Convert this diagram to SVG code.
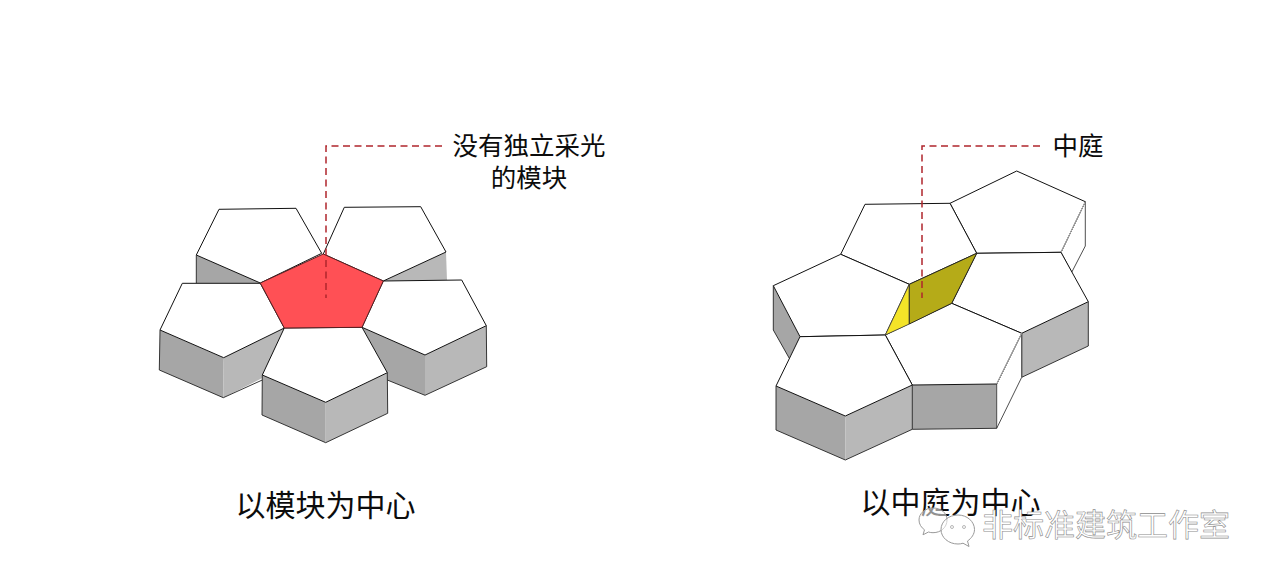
<svg xmlns="http://www.w3.org/2000/svg" width="1270" height="582" viewBox="0 0 1270 582">
<style>
text{font-family:"Noto Sans CJK SC","Liberation Sans",sans-serif;fill:#0c0c0c}
.top{fill:#fff;stroke:#111;stroke-width:1;stroke-linejoin:round}
.d{fill:#a6a6a6}
.l{fill:#b8b8b8}
.w{fill:#fff;stroke:#222;stroke-width:.8;stroke-linejoin:round}
.e{fill:none;stroke:#222;stroke-width:.9;stroke-linejoin:round}
.lead{fill:none;stroke:#b0262c;stroke-width:1.5;stroke-dasharray:7 4.5}
.cap{font-size:30px;text-anchor:middle}
.lab{font-size:25.500px;text-anchor:middle}
.wm{font-size:31px;fill:#fff;stroke:#8c8c8c;stroke-width:.6}
.bub{fill:#fff;fill-opacity:.55;stroke:#999;stroke-width:1}
</style>
<rect width="1270" height="582" fill="#fff"/>
<g id="module-top-left">
<polygon class="d" points="196.3,255 260.3,283 196.3,283.3"/>
<polyline class="e" points="196.3,255 196.3,283.3"/>
<polygon class="top" points="219,209.3 296,208.3 321.7,253.3 260.3,283 196.3,255"/>
</g>
<g id="module-top-right">
<polygon class="l" points="446,252 447,280.5 383.3,281"/>
<polygon class="top" points="344.3,207.3 420.7,206.7 446,252 383.3,281 323.3,254"/>
</g>
<g id="module-left">
<polygon class="d" points="160,330 223.7,357.7 223.3,397.7 159.3,370"/>
<polygon class="l" points="223.7,357.7 284.3,328 262.3,378 223.3,397.7"/>
<polyline class="e" points="160,330 159.3,370 223.3,397.7 262.3,380"/>
<polygon class="top" points="182.3,283.3 260.3,283.3 284.3,328 223.7,357.7 160,330"/>
</g>
<g id="module-right">
<polygon class="d" points="362,327.3 425,355 425,395.3 387.3,380 387.3,372.7"/>
<polygon class="l" points="425,355 486.3,325.7 486.7,366.7 425,395.3"/>
<polyline class="e" points="387.300,380 425,395.3 486.7,366.7 486.3,325.7"/>
<polygon class="top" points="383.3,281 461.7,280 486.3,325.7 425,355 362,327.3"/>
</g>
<g id="module-bottom">
<polygon class="d" points="262.3,375 325.7,402.3 325.7,442.7 262,415"/>
<polygon class="l" points="325.7,402.3 387.3,372.7 387.7,413.3 325.7,442.7"/>
<polyline class="e" points="262.3,375 262,415 325.7,442.7 387.7,413.3 387.3,372.7"/>
<polygon class="top" points="284.3,328 362,327.3 387.3,372.7 325.7,402.3 262.3,375"/>
</g>
<g id="module-center">
<polygon points="323.3,254 383.3,281 362,327.3 284.3,328 260.3,283" fill="#ff5055" stroke="#5a1f22" stroke-width="1"/>
</g>
<g id="cell-upper-right">
<polygon class="w" points="1085.3,201.7 1085.3,246 1071.7,272.3 1061,252.3"/>
<polygon class="top" points="1016.7,171 1085.3,201.7 1061,252.3 976.7,253.3 950,203.3"/>
<line x1="1085.3" y1="201.7" x2="1061" y2="252.3" stroke="#bbb" stroke-width="1"/>
</g>
<g id="cell-top">
<polygon class="top" points="865,204.3 950,203.3 976.7,253.3 909.3,284.3 840.7,254.3"/>
</g>
<g id="cell-left">
<polygon class="d" points="773.3,285.7 800,336.7 789.3,358.3 773.3,330"/>
<polyline class="e" points="773.3,285.7 773.3,330 789.3,358.3"/>
<polygon class="top" points="840.7,254.3 909.3,284.3 885.3,335 800,336.7 773.3,285.7"/>
</g>
<g id="cell-right">
<polygon class="l" points="1088.3,301.7 1088.3,346 1021.7,377.3 1021.7,333.3"/>
<polyline class="e" points="1088.3,301.7 1088.3,346 1021.7,377.3 1021.7,333.3"/>
<polygon class="top" points="976.7,253.3 1061,252.3 1088.3,301.7 1021.7,333.3 951.7,303.3"/>
</g>
<g id="cell-bottom-center">
<polygon class="d" points="912.3,385 996.7,384 996.7,428.3 912.3,429.3"/>
<polyline class="e" points="912.3,429.3 996.7,428.3"/>
<polygon class="w" points="1021.7,333.3 1021.7,377.3 996.7,428.3 996.7,384"/>
<polygon class="top" points="951.7,303.3 1021.7,333.3 996.7,384 912.3,385 885.3,335"/>
<line x1="1021.7" y1="333.3" x2="996.7" y2="384" stroke="#bbb" stroke-width="1"/>
</g>
<g id="cell-bottom-left">
<polygon class="d" points="776,386 845.3,416 845.3,460 776,430"/>
<polygon class="l" points="845.3,416 912.3,385 912.3,429.3 845.3,460"/>
<polyline class="e" points="776,386 776,430 845.3,460 912.3,429.3 912.3,385"/>
<polygon class="top" points="800,336.7 885.3,335 912.3,385 845.3,416 776,386"/>
</g>
<g id="atrium">
<polygon points="909.3,284.3 909.3,324 885.3,335" fill="#f4e428" stroke="#444" stroke-width=".8"/>
<polygon points="909.3,284.3 976.7,253.3 951.7,303.3 909.3,324" fill="#b5ab18" stroke="#222" stroke-width=".9"/>
</g>
<g id="connectors">
<polyline class="lead" points="442,146 326,146 326,298"/>
<polyline class="lead" points="1040,146 922,146 922,298"/>
</g>
<g id="labels">
<text class="lab" x="529" y="155">没有独立采光</text>
<text class="lab" x="529" y="187">的模块</text>
<text class="lab" x="1078" y="155">中庭</text>
<text class="cap" x="325.500" y="516">以模块为中心</text>
<text class="cap" x="950.500" y="513">以中庭为中心</text>
</g>
<g id="watermark">
<path class="bub" d="M933 508c-8 0-14 5.500-14 12 0 4 2.200 7.500 5.500 9.800l-1.500 5 5.500-2.800c1.500.5 3 .7 4.500.7 8 0 14-5.500 14-12.700S941 508 933 508z"/>
<path class="bub" d="M958 515c-9.500 0-17 6.500-17 14.500S948.500 544 958 544c2 0 3.500-.3 5-.8l6 3.300-1.500-5.500c4-2.700 7-7 7-11.500 0-8-7.500-14.500-16.500-14.500z"/>
<circle cx="952" cy="527" r="1.500" fill="none" stroke="#999" stroke-width=".7"/>
<circle cx="964" cy="527" r="1.500" fill="none" stroke="#999" stroke-width=".7"/>
<text class="wm" x="982" y="536">非标准建筑工作室</text>
</g>
</svg>
